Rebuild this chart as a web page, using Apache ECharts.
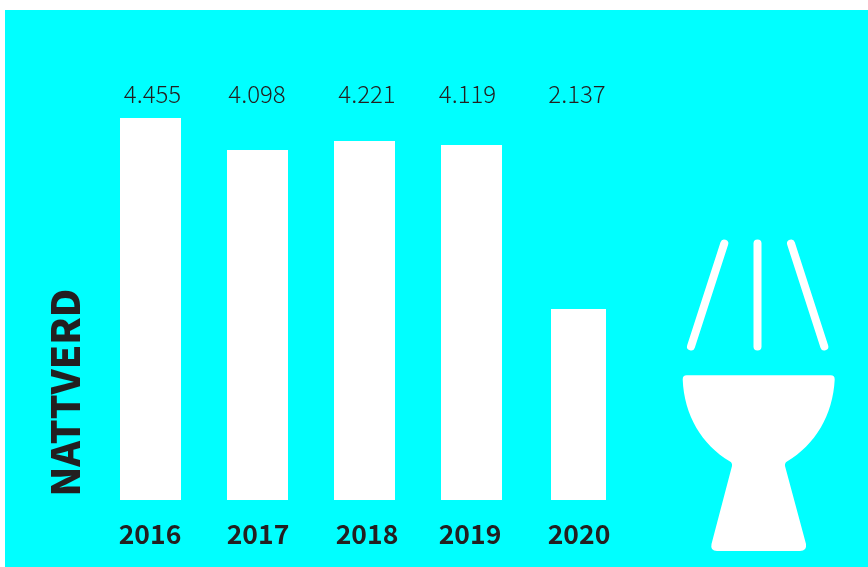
<!DOCTYPE html>
<html><head><meta charset="utf-8">
<style>html,body{margin:0;padding:0;background:#fff}#c{width:868px;height:567px}</style>
<script src="https://cdn.jsdelivr.net/npm/echarts@6/dist/echarts.min.js"></script>
</head><body><div id="c"></div>
<script>
const years = ['2016','2017','2018','2019','2020'];
// Printed labels from the reference
const printedLabels = ['4.455','4.098','4.221','4.119','2.137'];
// Bar lengths as drawn in the reference (the picture is not strictly to scale with its labels)
const barValues = [4455,4082,4187,4140,2228];
const axisMax = 4455;
const sideTitle = 'NATTVERD';
const FONT = '"Noto Sans CJK JP"';
const INK = '#231f20';
const labelNudge = [2,-0.5,2.5,-4,-1.5];
const yearNudge = [-0.5,0.5,2.5,-1.5,0.5];
const pad = n => n>=0 ? [0,0,0,n*2] : [0,-n*2,0,0];
const cupPath = 'M686.7 375.3L830.7 375.3Q834.7 375.3 834.7 379.5C833 415 815 445 787 461.5Q784.5 463 785 466L806 544Q807 551 800 551L717 551Q710 551 711.5 544L732 466Q732.5 463 730 461.5C702 445 684 415 682.7 379.5Q682.7 375.3 686.7 375.3Z';

const chart = echarts.init(document.getElementById('c'),null,{renderer:'canvas'});
const cat = (extra)=>Object.assign({type:'category',gridIndex:0,axisLine:{show:false},axisTick:{show:false},splitLine:{show:false}},extra);
chart.setOption({
  animation:false,
  backgroundColor:'#ffffff',
  grid:{left:97,top:118,width:535,height:382,containLabel:false},
  xAxis:[
    cat({position:'bottom',data:years.map((y,i)=>({value:y,textStyle:{padding:pad(yearNudge[i])}})),
      axisLabel:{interval:0,margin:21,fontFamily:FONT,fontSize:26.5,fontWeight:'bold',color:INK}}),
    cat({position:'top',data:printedLabels.map((y,i)=>({value:y,textStyle:{padding:pad(labelNudge[i])}})),
      axisLabel:{interval:0,margin:12,fontFamily:FONT,fontSize:24,fontWeight:300,color:INK}}),
    cat({position:'bottom',data:years,axisLabel:{show:false}})
  ],
  yAxis:{type:'value',min:0,max:axisMax,show:true,axisLine:{show:false},axisTick:{show:false},axisLabel:{show:false},splitLine:{show:false}},
  series:[
    {type:'bar',xAxisIndex:0,barWidth:61,itemStyle:{color:'#fff'},data:barValues.slice(0,4)},
    {type:'bar',xAxisIndex:2,barWidth:55,itemStyle:{color:'#fff'},data:[null,null,null,null,barValues[4]]},
    {type:'custom',coordinateSystem:'none',silent:true,data:[[0]],renderItem:()=>({
      type:'path',
      shape:{pathData:cupPath,layout:'cover',x:682.7,y:375.3,width:152,height:175.7},
      style:{fill:'#fff'}
    })}
  ],
  graphic:[
    {type:'rect',z:-10,silent:true,shape:{x:5,y:10,width:863,height:557},style:{fill:'#00ffff'}},
    {type:'text',silent:true,x:65.5,y:496.5,rotation:Math.PI/2,style:{text:sideTitle,fill:INK,align:'left',verticalAlign:'middle',fontFamily:FONT,fontSize:39,fontWeight:900}},
    {type:'line',silent:true,shape:{x1:724.3,y1:243.5,x2:691,y2:346.5},style:{stroke:'#fff',lineWidth:8,lineCap:'round'}},
    {type:'line',silent:true,shape:{x1:757.5,y1:243.5,x2:757.5,y2:346.5},style:{stroke:'#fff',lineWidth:8,lineCap:'round'}},
    {type:'line',silent:true,shape:{x1:791,y1:243.5,x2:824.3,y2:346.5},style:{stroke:'#fff',lineWidth:8,lineCap:'round'}}
  ]
});
</script></body></html>
